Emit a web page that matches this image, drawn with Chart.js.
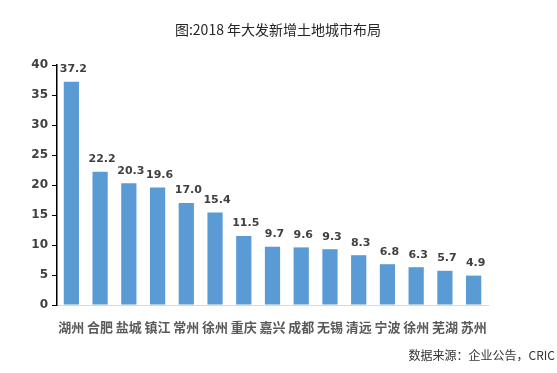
<!DOCTYPE html>
<html>
<head>
<meta charset="utf-8">
<script src="https://cdn.jsdelivr.net/npm/chart.js@4"></script>
<style>
  html, body { margin: 0; padding: 0; background: #fff; }
  #wrap { width: 557px; height: 373px; }
</style>
</head>
<body>
<div id="wrap"><canvas id="myChart" width="557" height="373"></canvas></div>
<script>
// 城市 + 面积
const cities = ["湖州", "合肥", "盐城", "镇江", "常州", "徐州", "重庆", "嘉兴", "成都", "无锡", "清远", "宁波", "徐州", "芜湖", "苏州"];
const values = [37.2, 22.2, 20.3, 19.6, 17.0, 15.4, 11.5, 9.7, 9.6, 9.3, 8.3, 6.8, 6.3, 5.7, 4.9];
const yTicks = [0, 5, 10, 15, 20, 25, 30, 35, 40];

const titleText = "图:2018 年大发新增土地城市布局";
const sourceText = "数据来源：企业公告，CRIC";

const fontFam = '"Microsoft YaHei", "Noto Sans CJK SC", "Noto Sans", sans-serif';

// title, source and bar labels
const extras = {
  id: 'extras',
  afterDatasetsDraw(chart) {
    const ctx = chart.ctx;
    ctx.save();
    ctx.fillStyle = '#262626';
    ctx.font = '14px ' + fontFam;
    ctx.textAlign = 'center';
    ctx.textBaseline = 'middle';
    ctx.fillText(titleText, 278, 30);

    ctx.fillStyle = '#333';
    ctx.font = '12px ' + fontFam;
    ctx.textAlign = 'right';
    ctx.fillText(sourceText, 555, 355);

    const meta = chart.getDatasetMeta(0);
    ctx.fillStyle = '#404040';
    ctx.font = 'bold 11px "DejaVu Sans", sans-serif';
    ctx.textAlign = 'center';
    ctx.textBaseline = 'bottom';
    meta.data.forEach((bar, i) => {
      ctx.fillText(values[i].toFixed(1), bar.x + 2, bar.y - 7);
    });
    ctx.restore();
  }
};

const config = {
  type: 'bar',
  data: {
    labels: cities,
    datasets: [{
      data: values,
      backgroundColor: '#5B9BD5',
      categoryPercentage: 1,
      barPercentage: 0.53
    }]
  },
  options: {
    responsive: false,
    animation: false,
    layout: { padding: { top: 65, right: 69, bottom: 38, left: 0 } },
    plugins: {
      legend: { display: false },
      title: { display: false },
      tooltip: { enabled: false }
    },
    scales: {
      x: {
        grid: { display: false },
        border: { color: '#d9d9d9', width: 1 },
        ticks: {
          color: '#595959',
          font: { family: fontFam, size: 13, weight: 'bold' },
          padding: 6,
          maxRotation: 0,
          autoSkip: false
        },
        afterFit(scale) { scale.height = 30; }
      },
      y: {
        min: 0,
        max: 40,
        afterBuildTicks(scale) { scale.ticks = yTicks.map(v => ({ value: v })); },
        grid: { drawOnChartArea: false, drawTicks: true, tickLength: 5, color: '#000' },
        border: { color: '#000', width: 1.5 },
        ticks: {
          color: '#404040',
          font: { family: '"DejaVu Sans", sans-serif', size: 12, weight: 'bold' },
          padding: 4
        },
        afterFit(scale) { scale.width = 57; }
      }
    }
  },
  plugins: [extras]
};

const myChart = new Chart(document.getElementById('myChart'), config);
</script>
</body>
</html>
